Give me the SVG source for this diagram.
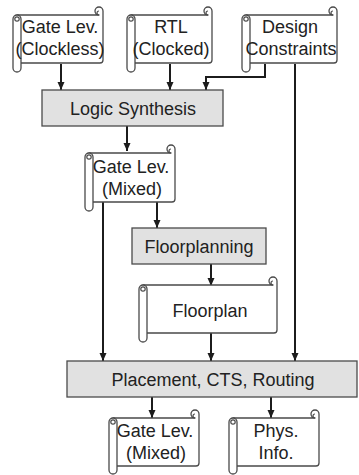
<svg xmlns="http://www.w3.org/2000/svg" width="359" height="475" viewBox="0 0 359 475">
  <style>
    .scroll { fill: #ffffff; stroke: #4a4a4a; stroke-width: 1.3; stroke-linejoin: round; }
    .curl { fill: none; stroke: #4a4a4a; stroke-width: 1.2; }
    .box { fill: #e1e1e1; stroke: #4a4a4a; stroke-width: 1.3; }
    .lbl { font-family: "Liberation Sans", Arial, sans-serif; font-size: 18px; fill: #222222; text-anchor: middle; }
    .wire { fill: none; stroke: #1c1c1c; stroke-width: 2; marker-end: url(#arrow); }
  </style>
  <defs>
    <marker id="arrow" viewBox="0 0 8 8" refX="8" refY="4" markerWidth="8" markerHeight="8" markerUnits="userSpaceOnUse" orient="auto">
      <path d="M0,0.5 L8,4 L0,7.5 z" fill="#1c1c1c"/>
    </marker>
  </defs>

  <rect width="359" height="475" fill="#ffffff"/>

  <!-- connectors -->
  <g id="connectors">
    <path class="wire" d="M61,64 V90"/>
    <path class="wire" d="M170,64 V90"/>
    <path class="wire" d="M265,64 V77 H206 V90"/>
    <path class="wire" d="M295,64 V361"/>
    <path class="wire" d="M127,126 V151"/>
    <path class="wire" d="M103,202 V361"/>
    <path class="wire" d="M157,202 V228"/>
    <path class="wire" d="M211,264 V286"/>
    <path class="wire" d="M211,333 V361"/>
    <path class="wire" d="M152,397 V418"/>
    <path class="wire" d="M271,397 V418"/>
  </g>

  <!-- Gate Lev. (Clockless) -->
  <g id="gate-clockless">
    <path class="scroll" d="M17,15 H99 A4,4 0 1 1 103,11 V60 Q103,63 100,63 H17 Z"/>
    <path class="curl" d="M99,15 A2,2 0 0 1 99,11"/>
    <rect class="scroll" x="13" y="15" width="8" height="57" rx="4"/>
    <circle class="curl" cx="17" cy="19" r="2.2"/>
    <text class="lbl" x="60" y="33">Gate Lev.</text>
    <text class="lbl" x="60" y="55">(Clockless)</text>
  </g>

  <!-- RTL (Clocked) -->
  <g id="rtl-clocked">
    <path class="scroll" d="M131,15 H208 A4,4 0 1 1 212,11 V60 Q212,63 209,63 H131 Z"/>
    <path class="curl" d="M208,15 A2,2 0 0 1 208,11"/>
    <rect class="scroll" x="127" y="15" width="8" height="57" rx="4"/>
    <circle class="curl" cx="131" cy="19" r="2.2"/>
    <text class="lbl" x="171" y="33">RTL</text>
    <text class="lbl" x="171" y="55">(Clocked)</text>
  </g>

  <!-- Design Constraints -->
  <g id="design-constraints">
    <path class="scroll" d="M246,15 H333 A4,4 0 1 1 337,11 V60 Q337,63 334,63 H246 Z"/>
    <path class="curl" d="M333,15 A2,2 0 0 1 333,11"/>
    <rect class="scroll" x="242" y="15" width="8" height="57" rx="4"/>
    <circle class="curl" cx="246" cy="19" r="2.2"/>
    <text class="lbl" x="290" y="33">Design</text>
    <text class="lbl" x="291" y="55">Constraints</text>
  </g>

  <!-- Logic Synthesis -->
  <g id="logic-synthesis">
    <rect class="box" x="42" y="90" width="181" height="36"/>
    <text class="lbl" x="133" y="114.5">Logic Synthesis</text>
  </g>

  <!-- Gate Lev. (Mixed), after synthesis -->
  <g id="gate-mixed-1">
    <path class="scroll" d="M89,153 H171 A4,4 0 1 1 175,149 V199 Q175,202 172,202 H89 Z"/>
    <path class="curl" d="M171,153 A2,2 0 0 1 171,149"/>
    <rect class="scroll" x="85" y="153" width="8" height="58" rx="4"/>
    <circle class="curl" cx="89" cy="157" r="2.2"/>
    <text class="lbl" x="131" y="173">Gate Lev.</text>
    <text class="lbl" x="132" y="195">(Mixed)</text>
  </g>

  <!-- Floorplanning -->
  <g id="floorplanning">
    <rect class="box" x="132" y="228" width="134" height="36"/>
    <text class="lbl" x="199" y="252.5">Floorplanning</text>
  </g>

  <!-- Floorplan -->
  <g id="floorplan">
    <path class="scroll" d="M143,285 H273 A4,4 0 1 1 277,281 V330 Q277,333 274,333 H143 Z"/>
    <path class="curl" d="M273,285 A2,2 0 0 1 273,281"/>
    <rect class="scroll" x="139" y="285" width="8" height="57" rx="4"/>
    <circle class="curl" cx="143" cy="289" r="2.2"/>
    <text class="lbl" x="210" y="317">Floorplan</text>
  </g>

  <!-- Placement, CTS, Routing -->
  <g id="placement">
    <rect class="box" x="67" y="361" width="290" height="36"/>
    <text class="lbl" x="213" y="385.5">Placement, CTS, Routing</text>
  </g>

  <!-- Gate Lev. (Mixed), after placement -->
  <g id="gate-mixed-2">
    <path class="scroll" d="M113,418 H195 A4,4 0 1 1 199,414 V463 Q199,466 196,466 H113 Z"/>
    <path class="curl" d="M195,418 A2,2 0 0 1 195,414"/>
    <rect class="scroll" x="109" y="418" width="8" height="56" rx="4"/>
    <circle class="curl" cx="113" cy="422" r="2.2"/>
    <text class="lbl" x="155" y="437">Gate Lev.</text>
    <text class="lbl" x="156" y="459">(Mixed)</text>
  </g>

  <!-- Phys. Info. -->
  <g id="phys-info">
    <path class="scroll" d="M233,418 H315 A4,4 0 1 1 319,414 V463 Q319,466 316,466 H233 Z"/>
    <path class="curl" d="M315,418 A2,2 0 0 1 315,414"/>
    <rect class="scroll" x="229" y="418" width="8" height="56" rx="4"/>
    <circle class="curl" cx="233" cy="422" r="2.2"/>
    <text class="lbl" x="276" y="437">Phys.</text>
    <text class="lbl" x="276" y="459">Info.</text>
  </g>
</svg>
